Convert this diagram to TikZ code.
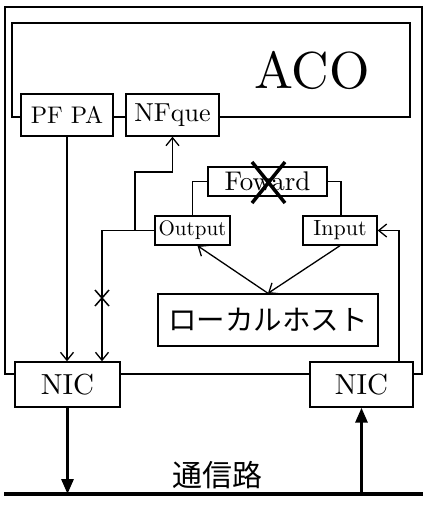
\documentclass[tikz,border=0pt]{standalone}
\usepackage{fontspec}
\newfontfamily\cjk{Noto Sans CJK JP}
\newfontfamily\lmten{lmroman10-regular}[Extension=.otf]
\usetikzlibrary{arrows.meta}
\newcommand\fsz[1]{\lmten\fontsize{#1}{#1}\selectfont}
\begin{document}
\begin{tikzpicture}[x=1pt,y=-1pt,
  box/.style={draw,line width=1.4pt,fill=white,inner sep=0pt,anchor=center},
  line/.style={line width=1.3pt},
  arr/.style={line width=1.3pt,-{Straight Barb[length=8pt,width=13pt,line width=1.3pt]}},
  bigarr/.style={line width=3pt,-{Triangle[length=15pt,width=12pt]}},
  cross/.style={line width=3.5pt}]
\useasboundingbox (0,0) rectangle (425,512);
% host frame and the ACO frame
\node[box,minimum width=417pt,minimum height=367pt] (host) at (213.5,190.5) {};
\node[box,minimum width=398pt,minimum height=94pt] (aco) at (211,70) {};
\node[font=\fsz{52}] (acolabel) at (312,70) {ACO};
\node[box,minimum width=92pt,minimum height=42pt,font=\fsz{24}] (pfpa) at (67,115) {PF PA};
\node[box,minimum width=93pt,minimum height=42pt,font=\fsz{26}] (nfque) at (172.5,115) {NFque};
% forwarding path
\node[box,minimum width=119pt,minimum height=29pt,font=\fsz{27}] (foward) at (267.5,181.5) {Foward};
\node[box,minimum width=75pt,minimum height=29pt,font=\fsz{21}] (output) at (192.5,230.5) {Output};
\node[box,minimum width=74pt,minimum height=29pt,font=\fsz{22}] (input) at (340,230.5) {Input};
\node[box,minimum width=220pt,minimum height=52pt,font=\cjk\fontsize{28.5}{28.5}\selectfont] (lh) at (268,320) {ローカルホスト};
% network interfaces
\node[box,minimum width=105pt,minimum height=45pt,font=\fsz{29}] (nicL) at (67.5,384.5) {NIC};
\node[box,minimum width=103pt,minimum height=45pt,font=\fsz{29}] (nicR) at (361.5,384.5) {NIC};
% bus
\coordinate (busL) at (4,494);
\coordinate (busR) at (423,494);
\draw[line width=4pt] (busL) -- (busR);
\node[font=\cjk\fontsize{30}{30}\selectfont] (buslabel) at (217,475) {通信路};
% connectors
\draw[arr] (pfpa.south) -- (pfpa.south |- nicL.north);
\coordinate (jl) at (102,230.5);
\coordinate (br) at (135,230.5);
\coordinate (bend) at (135,172);
\draw[arr] (output.west) -- (jl) -- (jl |- nicL.north);
\draw[arr] (br) |- (nfque.south |- bend) -- (nfque.south);
\draw[line] (foward.west) -| (output.north);
\draw[line] (foward.east) -| ([xshift=1pt]input.north);
\draw[arr] (lh.north) -- ([xshift=5pt]output.south);
\draw[arr] (input.south) -- (lh.north);
\draw[arr] ([xshift=37.5pt]nicR.north) |- (input.east);
\draw[bigarr] (nicL.south) -- (nicL.south |- busL);
\draw[bigarr] (nicR.south |- busL) -- (nicR.south);
% blocked marks
\draw[cross] (252,162) -- (285,203) (285,162) -- (252,203);
\draw[line width=1.5pt] (95,290) -- (109,306) (109,290) -- (95,306);
\end{tikzpicture}
\end{document}
